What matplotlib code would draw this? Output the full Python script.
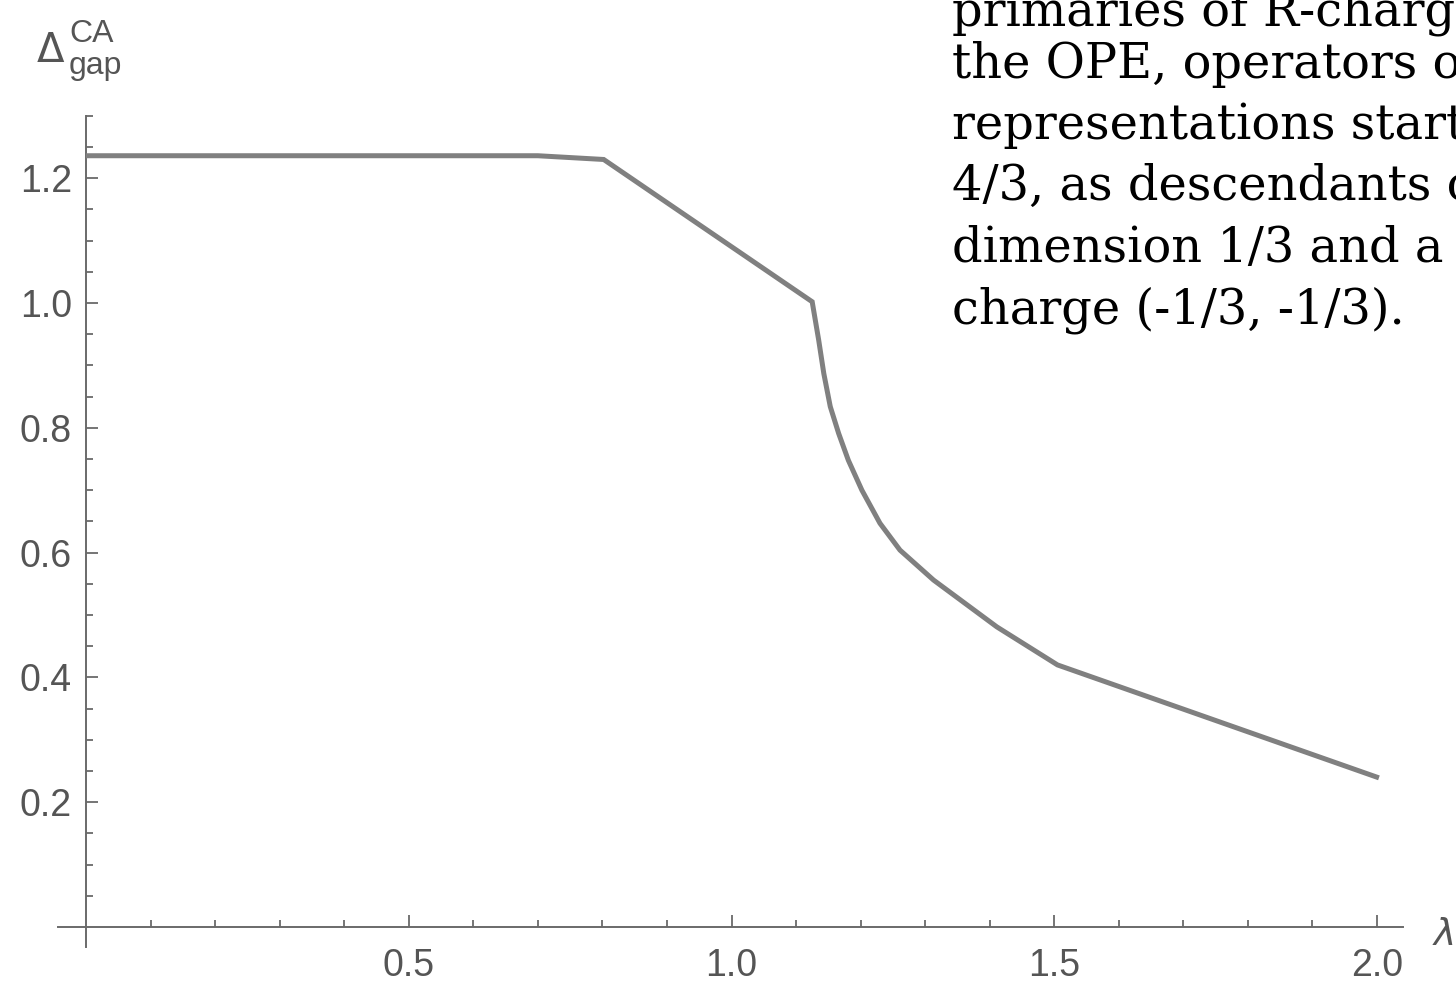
import matplotlib
matplotlib.use("Agg")
import matplotlib.pyplot as plt
from matplotlib.ticker import FixedLocator

# Data
lam = [0.0, 0.70, 0.802, 1.125, 1.135, 1.143, 1.153, 1.166, 1.181, 1.202, 1.230,
       1.261, 1.313, 1.411, 1.505, 2.003]
gap = [1.236, 1.236, 1.230, 1.002, 0.941, 0.887, 0.834, 0.791, 0.748, 0.700, 0.647,
       0.604, 0.556, 0.481, 0.420, 0.239]

x_major = [0.5, 1.0, 1.5, 2.0]
x_labels = ["0.5", "1.0", "1.5", "2.0"]
y_major = [0.2, 0.4, 0.6, 0.8, 1.0, 1.2]
y_labels = ["0.2", "0.4", "0.6", "0.8", "1.0", "1.2"]

side_text = [
    "primaries of R-charges",
    "the OPE, operators of",
    "representations start",
    "4/3, as descendants of",
    "dimension 1/3 and a",
    "charge (-1/3, -1/3).",
]

W, H = 1456, 984
fig = plt.figure(figsize=(W / 100, H / 100), dpi=100)
fig.patch.set_facecolor("white")

xmin, xmax = -0.045, 2.045
ymin, ymax = -0.032, 1.30
px_x0, px_per_x = 86, 645.5
px_y0, px_per_y = 927, 624.0
left = (px_x0 + xmin * px_per_x) / W
right = (px_x0 + xmax * px_per_x) / W
bottom = (H - (px_y0 - ymin * px_per_y)) / H
top = (H - (px_y0 - ymax * px_per_y)) / H
ax = fig.add_axes([left, bottom, right - left, top - bottom])
ax.set_xlim(xmin, xmax)
ax.set_ylim(ymin, ymax)

axc = "#6a6a6a"
for s in ["top", "right"]:
    ax.spines[s].set_visible(False)
ax.spines["left"].set_position(("data", 0))
ax.spines["bottom"].set_position(("data", 0))
ax.spines["left"].set_bounds(-0.032, 1.30)
ax.spines["bottom"].set_bounds(-0.043, 2.04)
for s in ["left", "bottom"]:
    ax.spines[s].set_color(axc)
    ax.spines[s].set_linewidth(1.4)

ax.plot(lam, gap, color="#808080", lw=3.6, solid_joinstyle="miter",
        solid_capstyle="butt", clip_on=False, zorder=3)

font = "Liberation Sans"
lblc = "#555555"
ax.xaxis.set_major_locator(FixedLocator(x_major))
ax.set_xticklabels(x_labels)
ax.xaxis.set_minor_locator(FixedLocator([0.1, 0.2, 0.3, 0.4, 0.6, 0.7, 0.8, 0.9,
                                         1.1, 1.2, 1.3, 1.4, 1.6, 1.7, 1.8, 1.9]))
ax.yaxis.set_major_locator(FixedLocator(y_major))
ax.set_yticklabels(y_labels)
ax.yaxis.set_minor_locator(FixedLocator([0.05, 0.1, 0.15, 0.25, 0.3, 0.35, 0.45, 0.5, 0.55,
                                         0.65, 0.7, 0.75, 0.85, 0.9, 0.95, 1.05, 1.1, 1.15,
                                         1.25, 1.3]))
ax.tick_params(which="both", direction="in", color=axc, width=1.3)
ax.tick_params(which="major", length=8.5)
ax.tick_params(which="minor", length=5)
ax.tick_params(axis="x", which="major", pad=15, labelsize=27, labelcolor=lblc)
ax.tick_params(axis="y", which="major", pad=10, labelsize=27, labelcolor=lblc)
for lab in ax.get_xticklabels() + ax.get_yticklabels():
    lab.set_fontfamily(font)

# y-axis label  Delta^CA_gap
fig.text(37 / W, 1 - 62 / H, "\u0394", fontsize=29, color=lblc, family="DejaVu Sans",
         ha="left", va="baseline")
fig.text(69 / W, 1 - 42 / H, "CA", fontsize=23, color=lblc, family=font,
         ha="left", va="baseline")
fig.text(69 / W, 1 - 74 / H, "gap", fontsize=23, color=lblc, family=font,
         ha="left", va="baseline")
# x-axis label lambda
fig.text(1434 / W, 1 - 945 / H, "\u03bb", fontsize=27, color=lblc, family="DejaVu Sans",
         style="italic", ha="left", va="baseline")

# paragraph text at upper right
baselines = [25, 78, 139, 200, 262, 323]
for line, b in zip(side_text, baselines):
    fig.text(952 / W, 1 - b / H, line, fontsize=34.5, color="black", family="DejaVu Serif",
             ha="left", va="baseline")

fig.savefig("out.png", dpi=100, facecolor="white")
